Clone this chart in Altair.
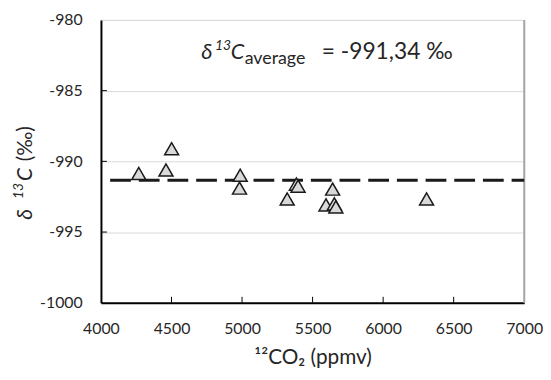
import altair as alt
import pandas as pd

# Data
co2 = [4268, 4461, 4501, 4987, 4982, 5320, 5385, 5397, 5642, 5595, 5654, 5665, 6308]
d13c = [-990.86, -990.61, -989.11, -990.98, -991.89, -992.66, -991.61, -991.75,
        -991.96, -993.08, -993.01, -993.22, -992.66]
avg_x = [4065, 7000]
avg_value = -991.34
x_ticks = [4000, 4500, 5000, 5500, 6000, 6500, 7000]
y_ticks = [-1000, -995, -990, -985, -980]
x_inner_ticks = [4500, 5000, 5500, 6000, 6500]
y_inner_ticks = [-995, -990, -985]

FONT = "Lato"
W, H = 428, 286

pts = pd.DataFrame({"co2": co2, "d13c": d13c})
avg = pd.DataFrame({"co2": avg_x, "d13c": [avg_value] * len(avg_x)})

xs = alt.Scale(domain=[4000, 7000], nice=False, zero=False)
ys = alt.Scale(domain=[-1000, -980], nice=False, zero=False)

base_axes = alt.Chart(pts).mark_point(opacity=0).encode(
    x=alt.X("co2:Q", scale=xs,
            axis=alt.Axis(values=x_ticks, labelExpr="'' + datum.value", grid=False, ticks=False,
                          labelFlush=False, labelOverlap=False,
                          domainColor="#000000", domainWidth=2,
                          labelFont=FONT, labelFontSize=16, labelColor="#262626",
                          labelPadding=18,
                          title="¹²CO₂ (ppmv)", titleFont=FONT, titleFontSize=21,
                          titleFontWeight="normal", titleColor="#262626",
                          titlePadding=10)),
    y=alt.Y("d13c:Q", scale=ys,
            axis=alt.Axis(values=y_ticks, labelExpr="'' + datum.value", grid=True,
                          gridColor="#d9d9d9", gridWidth=1, ticks=False,
                          labelFlush=False, labelOverlap=False,
                          domainColor="#000000", domainWidth=2,
                          labelFont=FONT, labelFontSize=16, labelColor="#262626",
                          labelPadding=19, title=None)),
)

right_border = alt.Chart(pd.DataFrame({"co2": [7000]})).mark_rule(
    color="#a6a6a6", strokeWidth=2).encode(
    x=alt.X("co2:Q", scale=xs), y=alt.value(0), y2=alt.value(H))

xt = alt.Chart(pd.DataFrame({"co2": x_inner_ticks})).mark_rule(
    color="#000000", strokeWidth=1).encode(
    x=alt.X("co2:Q", scale=xs), y=alt.value(H), y2=alt.value(H - 6))

yt = alt.Chart(pd.DataFrame({"d13c": y_inner_ticks})).mark_rule(
    color="#000000", strokeWidth=1).encode(
    y=alt.Y("d13c:Q", scale=ys), x=alt.value(0), x2=alt.value(6))

avg_line = alt.Chart(avg).mark_line(
    color="#1a1a1a", strokeWidth=3, strokeDash=[21, 8]).encode(
    x=alt.X("co2:Q", scale=xs), y=alt.Y("d13c:Q", scale=ys))

points = alt.Chart(pts).mark_point(
    shape="triangle-up", filled=True, fill="#d9d9d9", stroke="#1a1a1a",
    strokeWidth=1.5, size=200, opacity=1).encode(
    x=alt.X("co2:Q", scale=xs), y=alt.Y("d13c:Q", scale=ys))

# annotation anchored in data coordinates
ann_x, ann_y = 4710, -982.75
ann_parts = [
    ("δ", 22, "italic", 0, 0),
    ("13", 14, "italic", 14, -9),
    ("C", 22, "italic", 30, 0),
    ("average", 18, "normal", 44, 5),
    ("= -991,34 ‰", 23, "normal", 122, 0),
]
ann_layers = []
for txt, fs, style, dx, dy in ann_parts:
    ann_layers.append(
        alt.Chart(pd.DataFrame({"co2": [ann_x], "d13c": [ann_y], "t": [txt]})).mark_text(
            font=FONT, fontSize=fs, fontStyle=style, align="left", baseline="alphabetic",
            dx=dx, dy=dy, color="#262626").encode(
            x=alt.X("co2:Q", scale=xs), y=alt.Y("d13c:Q", scale=ys), text="t:N"))

# rotated y-axis title composed of pieces
ytitle_parts = [
    ("δ", 21, "italic", 0, 0),
    ("13", 14, "italic", 21, -9),
    ("C", 21, "italic", 39, 0),
    ("(‰)", 21, "normal", 59, 0),
]
ytitle_layers = []
for txt, fs, style, dx, dy in ytitle_parts:
    ytitle_layers.append(
        alt.Chart(pd.DataFrame({"t": [txt]})).mark_text(
            font=FONT, fontSize=fs, fontStyle=style, align="left", baseline="alphabetic",
            angle=270, dx=dx, dy=dy, color="#262626").encode(
            x=alt.value(-70), y=alt.value(202), text="t:N"))

chart = alt.layer(base_axes, right_border, xt, yt, avg_line, points,
                  *ann_layers, *ytitle_layers).properties(
    width=W, height=H,
    autosize=alt.AutoSizeParams(type="none"),
    padding={"left": 94, "top": 10, "right": 19, "bottom": 72},
).configure_view(stroke=None).configure(background="white")

chart.save("out.html", embed_options={"renderer": "svg", "actions": False})
